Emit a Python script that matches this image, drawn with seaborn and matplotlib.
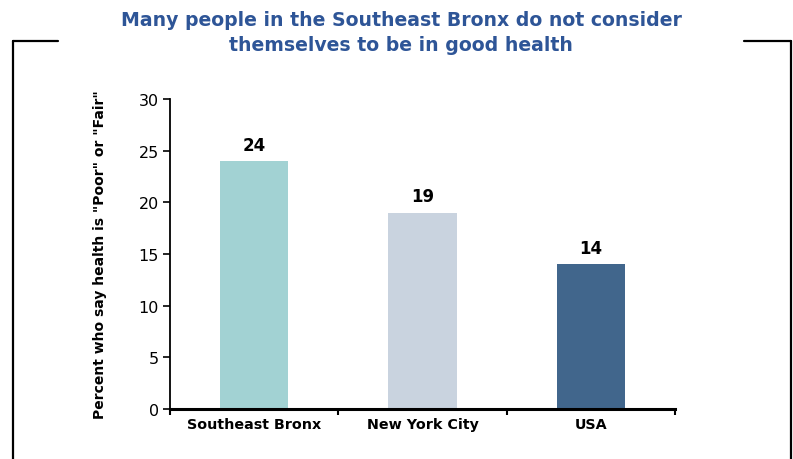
import matplotlib
matplotlib.use("Agg")
import matplotlib.pyplot as plt
import seaborn as sns
import pandas as pd
from matplotlib.lines import Line2D

# Data
regions = ["Southeast Bronx", "New York City", "USA"]
percent_poor_fair = [24, 19, 14]
bar_colors = ["#A2D2D3", "#C9D3DF", "#41668C"]

df = pd.DataFrame({"region": regions, "value": percent_poor_fair})

sns.set_style("white")
plt.rcParams["font.family"] = ["DejaVu Sans"]
plt.rcParams["text.color"] = "black"
plt.rcParams["axes.labelcolor"] = "black"
plt.rcParams["xtick.color"] = "black"
plt.rcParams["ytick.color"] = "black"

W, H = 793, 460
fig = plt.figure(figsize=(W / 100, H / 100), dpi=100)
ax = fig.add_axes([170 / W, 1 - 410 / H, (675 - 170) / W, (410 - 100) / H])

sns.barplot(data=df, x="region", y="value", hue="region", palette=bar_colors,
            width=0.405, legend=False, ax=ax, saturation=1, linewidth=0)

for i, v in enumerate(percent_poor_fair):
    ax.text(i, v + 0.7, str(v), ha="center", va="bottom",
            fontsize=12, fontweight="bold", color="black")

ax.set_xlim(-0.5, 2.5)
ax.set_ylim(0, 30)
ax.set_yticks(range(0, 31, 5))
ax.tick_params(axis="y", labelsize=11.5, length=5, width=1.2, direction="out",
               left=True, pad=3)
ax.set_xticks(range(len(regions)))
ax.set_xticklabels(regions, fontsize=10.3, fontweight="bold")
ax.set_xticks([-0.5, 0.5, 1.5, 2.5], minor=True)
ax.tick_params(axis="x", which="major", length=0, pad=6)
ax.tick_params(axis="x", which="minor", length=4, width=1.5, direction="out", bottom=True)

ax.set_xlabel("")
ax.set_ylabel("Percent who say health is \"Poor\" or \"Fair\"", fontsize=10,
              fontweight="bold", labelpad=23)

sns.despine(ax=ax)
ax.spines["left"].set_linewidth(1.3)
ax.spines["bottom"].set_linewidth(2.2)
ax.spines["left"].set_color("black")
ax.spines["bottom"].set_color("black")

fig.suptitle("Many people in the Southeast Bronx do not consider\nthemselves to be in good health",
             x=401 / W, y=1 - 11 / H, fontsize=13.6, fontweight="bold",
             color="#2E5597", linespacing=1.38, va="top")

# frame lines
def px_line(x0, y0, x1, y1):
    fig.add_artist(Line2D([x0 / W, x1 / W], [1 - y0 / H, 1 - y1 / H],
                          transform=fig.transFigure, color="black", linewidth=1.6))

px_line(13, 42, 58, 42)
px_line(13, 42, 13, 460)
px_line(744, 42, 791, 42)
px_line(791, 42, 791, 460)

fig.savefig("out.png", dpi=100)
